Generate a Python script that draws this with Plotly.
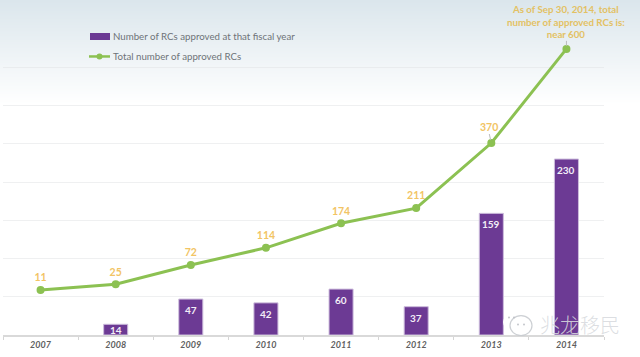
import plotly.graph_objects as go

years = ["2007", "2008", "2009", "2010", "2011", "2012", "2013", "2014"]
annual = [None, 14, 47, 42, 60, 37, 159, 230]
total = [11, 25, 72, 114, 174, 211, 370, 600]
total_labels = ["11", "25", "72", "114", "174", "211", "", ""]
label_2013 = "370"
note = "As of Sep 30, 2014, total<br>number of approved RCs is:<br>near 600"
series_names = ["Number of RCs approved at that fiscal year", "Total number of approved RCs"]

W, H = 640, 357
L, T, R, B = 3, 29, 604, 335.5
FONT = "Lato, 'Open Sans', sans-serif"
PURPLE, GREEN, GOLD = "#6c3a94", "#8cc152", "#f2c464"


def px(x):
    return (x - L) / (R - L)


def py(y):
    return (B - y) / (B - T)


def rect(x0, y0, x1, y1, fill, layer="below", line=None, kind="rect"):
    return dict(type=kind, xref="paper", yref="paper", layer=layer, x0=px(x0), x1=px(x1), y0=py(y1), y1=py(y0),
                line=line or dict(width=0), fillcolor=fill)


fig = go.Figure()
fig.add_bar(x=years, y=annual, name=series_names[0], width=0.32,
            marker=dict(color=PURPLE, line=dict(color="#cdbcdc", width=1)), yaxis="y")
fig.add_scatter(x=years, y=total, name=series_names[1], mode="lines+markers+text",
                text=total_labels, textposition="top center",
                textfont=dict(family=FONT, size=10.5, color=GOLD, weight="bold"),
                line=dict(color=GREEN, width=3), marker=dict(color=GREEN, size=8), yaxis="y2",
                cliponaxis=False)

shapes = []
# Background gradient, in stripes
top, bot = (219, 230, 236), (255, 255, 255)
for i in range(105):
    t = i / 104
    c = tuple(round(a + (b - a) * t) for a, b in zip(top, bot))
    shapes.append(rect(0, i, W, i + 1.3, f"rgb{c}"))

# Legend
shapes.append(rect(90, 33, 110, 40, PURPLE, layer="above"))
shapes.append(dict(type="line", xref="paper", yref="paper", x0=px(89), x1=px(110), y0=py(56.5), y1=py(56.5),
                   line=dict(color=GREEN, width=2.5), layer="above"))
shapes.append(rect(96.5, 53.5, 102.5, 59.5, GREEN, layer="above", kind="circle"))

# WeChat-style watermark icon
shapes.append(rect(503, 315, 520, 330, "rgba(255,255,255,0.95)", layer="above", kind="circle"))
shapes.append(rect(510, 316, 532, 336, "rgba(255,255,255,0.4)", layer="above", kind="circle",
                   line=dict(color="rgba(200,203,207,0.9)", width=1.2)))
for cx, cy in [(509, 318), (514, 318), (518, 325), (524, 325)]:
    shapes.append(rect(cx - 1, cy - 1, cx + 1, cy + 1, "rgba(190,193,197,0.9)", layer="above", kind="circle"))

annotations = []
for i, v in enumerate(annual):
    if v is None:
        continue
    annotations.append(dict(x=i, y=v, xref="x", yref="y", text=str(v), showarrow=False,
                            yshift=-min(11, v * 0.767 / 2), yanchor="middle",
                            font=dict(family=FONT, size=10, color="#f3eef7", weight="bold")))
annotations.append(dict(x=7, y=total[-1], xref="x", yref="y2", text=note, showarrow=True,
                        arrowhead=0, arrowwidth=1, arrowcolor="#bbbbbb", ax=0, ay=-8, standoff=3,
                        yanchor="bottom", align="center", borderpad=0,
                        font=dict(family=FONT, size=9.7, color="#e3c163", weight="bold")))
annotations.append(dict(x=6, y=total[-2], xref="x", yref="y2", text=label_2013, showarrow=True,
                        arrowhead=0, arrowwidth=1, arrowcolor="#bbbbbb", ax=-2, ay=-9, standoff=3,
                        yanchor="bottom", borderpad=0,
                        font=dict(family=FONT, size=10.5, color=GOLD, weight="bold")))
annotations.append(dict(xref="paper", yref="paper", x=px(538), y=py(325),
                        xanchor="left", yanchor="middle", text="兆龙移民", showarrow=False,
                        font=dict(family="'Noto Sans CJK SC'", size=20, color="rgba(215,218,222,0.9)", weight=300)))
for name, ly in zip(series_names, [36.5, 56.5]):
    annotations.append(dict(xref="paper", yref="paper", x=px(111), y=py(ly), xanchor="left", yanchor="middle",
                            text=name, showarrow=False,
                            font=dict(family=FONT, size=9.7, color="#6e7378")))

fig.update_layout(
    width=W, height=H, margin=dict(l=L, r=W - R, t=T, b=H - B, autoexpand=False),
    paper_bgcolor="white", plot_bgcolor="rgba(0,0,0,0)", shapes=shapes, annotations=annotations,
    showlegend=False,
    xaxis=dict(type="category", categoryorder="array", categoryarray=years, range=[-0.5, 7.5],
               tickson="boundaries", tickangle=0, ticks="outside", ticklen=3, tickcolor="#d5d5d5",
               linecolor="#d9d9d9", linewidth=2, showgrid=False,
               tickfont=dict(family=FONT, size=9, color="#5f5f5f", style="italic", weight="bold")),
    yaxis=dict(range=[0, 400], dtick=50, showticklabels=False, gridcolor="rgba(225,228,230,0.55)",
               gridwidth=1, zeroline=False, showline=False),
    yaxis2=dict(range=[-99, 648.6], overlaying="y", side="right", visible=False, showgrid=False),
)
fig.write_html("out.html", config={"displayModeBar": False},
               post_script="document.body.style.margin='0';document.documentElement.style.overflow='hidden';")
